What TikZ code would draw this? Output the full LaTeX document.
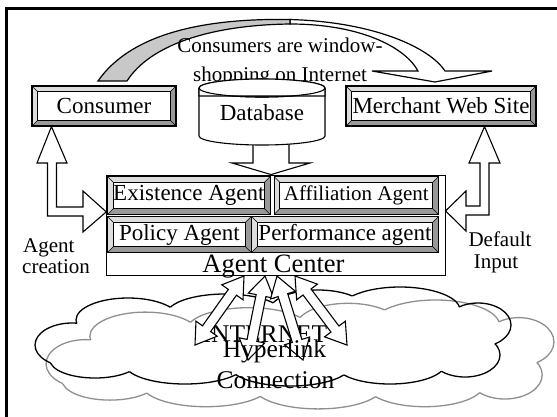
\documentclass[tikz,border=0pt]{standalone}
\usepackage{fontspec}
\setmainfont{Liberation Serif}
\usetikzlibrary{calc}

\definecolor{bevdark}{HTML}{999999}
\definecolor{bevlight}{HTML}{DDDDDD}
\definecolor{curlgray}{HTML}{C8C8C8}
\definecolor{cloudgray}{HTML}{8F8F8F}

\newcommand\szbox{\fontsize{23}{27}\selectfont}
\newcommand\szsmallbox{\fontsize{21}{25}\selectfont}
\newcommand\szlab{\fontsize{21}{25}\selectfont}
\newcommand\szbig{\fontsize{26.5}{30}\selectfont}
\newcommand\szcloud{\fontsize{25.5}{30}\selectfont}
\newcommand\bevw{5.5pt}

% lobes of the cloud outline: centre x / centre y / x radius / y radius
\newcommand\cloudlobes{72/345/37/22, 128/320/52/22, 225/314/58/20, 318/310/48/20,
  400/310/60/23, 478/325/33/22, 465/355/35/22, 390/364/55/20, 290/366/60/20,
  185/364/60/20, 95/360/45/18, 275/340/200/32}

% outline of the union of all lobes
\newcommand\drawcloud[1]{%
  \foreach \cx/\cy/\rx/\ry [count=\i] in \cloudlobes {
    \begin{scope}[even odd rule]
      \foreach \dx/\dy/\sx/\sy [count=\j] in \cloudlobes {
        \ifnum\i=\j\else
          \clip (-100,-100) rectangle (700,600)
            (\dx,\dy) ellipse [x radius=\sx pt, y radius=\sy pt];
        \fi
      }
      \draw[#1, line width=1.3pt] (\cx,\cy) ellipse [x radius=\rx pt, y radius=\ry pt];
    \end{scope}
  }}

% double-headed block arrow between two named points
\newcommand\hl{20pt}
\newcommand\hw{13pt}
\newcommand\sw{5pt}
\newcommand\twowayarrow[2]{%
  \draw[blockarrow] let \p1=(#1), \p2=(#2),
      \n1={atan2(\y2-\y1,\x2-\x1)}, \n2={\n1+90}, \n3={\n1+180}, \n4={\n1-90} in
    (\p1) -- ($(\p1)+(\n1:\hl)+(\n2:\hw)$) -- ($(\p1)+(\n1:\hl)+(\n2:\sw)$)
    -- ($(\p2)+(\n3:\hl)+(\n2:\sw)$) -- ($(\p2)+(\n3:\hl)+(\n2:\hw)$) -- (\p2)
    -- ($(\p2)+(\n3:\hl)+(\n4:\hw)$) -- ($(\p2)+(\n3:\hl)+(\n4:\sw)$)
    -- ($(\p1)+(\n1:\hl)+(\n4:\sw)$) -- ($(\p1)+(\n1:\hl)+(\n4:\hw)$) -- cycle;}

\tikzset{
  lab/.style={font=\szlab, inner sep=0pt},
  cloudtxt/.style={font=\szcloud, inner sep=0pt},
  blockarrow/.style={draw=black, fill=white, line width=1.1pt, line join=miter},
  bevelbox/.style={rectangle, draw=black, line width=1.1pt, fill=bevlight,
    inner sep=0pt, font=\szbox,
    path picture={
      \coordinate (bbnw) at (path picture bounding box.north west);
      \coordinate (bbne) at (path picture bounding box.north east);
      \coordinate (bbsw) at (path picture bounding box.south west);
      \coordinate (bbse) at (path picture bounding box.south east);
      \fill[bevdark] (bbsw) -- (bbse) -- (bbne) -- ([shift={(-\bevw,-\bevw)}]bbne)
        -- ([shift={(-\bevw,\bevw)}]bbse) -- ([shift={(\bevw,\bevw)}]bbsw) -- cycle;
      \draw[line width=0.5pt] (bbnw) -- ([shift={(\bevw,-\bevw)}]bbnw)
        (bbne) -- ([shift={(-\bevw,-\bevw)}]bbne)
        (bbsw) -- ([shift={(\bevw,\bevw)}]bbsw)
        (bbse) -- ([shift={(-\bevw,\bevw)}]bbse);
      \draw[line width=1.3pt, fill=white] ([shift={(\bevw,-\bevw)}]bbnw)
        rectangle ([shift={(-\bevw,\bevw)}]bbse);
    }}
}

\begin{document}
\begin{tikzpicture}[x=1pt, y=-1pt]
  \useasboundingbox (0,0) rectangle (557,416);
  \clip (0,0) rectangle (557,416);

  % page frame, running off the right and bottom edges
  \draw[line width=2.4pt] (6.5,8.5) rectangle (600,460);

  % internet clouds
  \begin{scope}[shift={(300,355)}, xscale=1.067, yscale=1.1, shift={(-273,-337)}]
    \drawcloud{cloudgray}
  \end{scope}
  \drawcloud{black}

  \node[cloudtxt, anchor=base] (inet) at (265,342) {INTERNET};

  % agent centre
  \node[draw, line width=1pt, fill=white, minimum width=338.3pt, minimum height=100.7pt,
        inner sep=0pt] (center) at (275.9,225.4) {};
  \node[bevelbox, minimum width=162.3pt, minimum height=37.5pt] (exist) at (188.9,195.5) {Existence Agent};
  \node[bevelbox, font=\szsmallbox, minimum width=164pt, minimum height=37.5pt] (affil) at (356.3,195.5) {Affiliation Agent};
  \node[bevelbox, minimum width=143.3pt, minimum height=35.6pt] (policy) at (179.4,234.5) {Policy Agent};
  \node[bevelbox, minimum width=186.6pt, minimum height=35.6pt] (perf) at (345,234.5) {Performance agent};
  \node[font=\szbig, anchor=base, inner sep=0pt] (centerlbl) at (273.5,272.3) {Agent Center};

  % hyperlink arrows between the agent centre and the internet
  \coordinate (ha1) at (244,276);  \coordinate (hb1) at (195,345);
  \coordinate (ha2) at (265,276);  \coordinate (hb2) at (248,360);
  \coordinate (ha3) at (277,276);  \coordinate (hb3) at (303,360);
  \coordinate (ha4) at (295,276);  \coordinate (hb4) at (347,345);
  \twowayarrow{ha1}{hb1}
  \twowayarrow{ha2}{hb2}
  \twowayarrow{ha3}{hb3}
  \twowayarrow{ha4}{hb4}

  \node[cloudtxt, anchor=base] (hyper) at (274.5,357) {Hyperlink};
  \node[cloudtxt, anchor=base] (conn) at (275.5,388) {Connection};

  % consumer and merchant boxes
  \node[bevelbox, minimum width=144pt, minimum height=40pt] (consumer) at (104,106) {Consumer};
  \node[bevelbox, minimum width=190pt, minimum height=40pt] (merchant) at (441,106) {Merchant Web Site};

  % agent creation: consumer <-> agent centre
  \coordinate (ctip) at ($(consumer.south west)+(20pt,0pt)$);
  \coordinate (ltip) at ($(center.west)+(0pt,13.5pt)$);
  \draw[blockarrow] (ctip) -- (67,163) -- (56.5,163) -- (56.5,207) -- (83,207) -- (83,191)
    -- (ltip) -- (83,232) -- (83,216) -- (47.5,216) -- (47.5,163) -- (37,163) -- cycle;

  % default input: merchant <-> agent centre
  \coordinate (mtip) at (merchant.south -| 484.5,0);
  \coordinate (rtip) at ($(center.east)+(0pt,14.5pt)$);
  \draw[blockarrow] (mtip) -- (500,163) -- (489,163) -- (489,215) -- (466,215) -- (466,231)
    -- (rtip) -- (466,191) -- (466,206) -- (480,206) -- (480,163) -- (469,163) -- cycle;

  \node[lab, anchor=base west] (creat1) at (23,252) {Agent};
  \node[lab, anchor=base west] (creat2) at (22,273) {creation};
  \node[lab, anchor=base] (defin1) at (500,246) {Default};
  \node[lab, anchor=base] (defin2) at (496,268) {Input};

  % database feeding the agent centre
  \coordinate (dbtip) at (center.north -| 271,0);
  \draw[blockarrow] (253,138) -- (253,163) -- (232,163) -- (dbtip) -- (310,163)
    -- (289,163) -- (289,138);
  \draw[line width=1.1pt, fill=white] (199,88) -- (199,136)
    arc[start angle=180, end angle=360, x radius=63pt, y radius=9pt] -- (325,88)
    arc[start angle=0, end angle=180, x radius=63pt, y radius=9pt] -- cycle;
  \draw[line width=1.1pt] (199,88) arc[start angle=180, end angle=360, x radius=63pt, y radius=9pt];
  \node[font=\szbox, anchor=base, inner sep=0pt] (db) at (262,120) {Database};

  % window-shopping arrow from consumer to merchant
  \draw[line width=1.2pt, fill=white, line join=miter]
    (290,19.5) .. controls (375,22) and (430,48) .. (445,71) -- (492,71) -- (435,82)
    -- (372,71) -- (418,71) .. controls (405,47) and (360,24) .. (290,24) -- cycle;
  \draw[line width=1.2pt, fill=curlgray, line join=miter]
    (98,81) .. controls (130,35) and (200,18) .. (290,19.5)
    -- (290,24) .. controls (210,25) and (150,45) .. (127,81) -- cycle;
  \node[lab, anchor=base] (slogan1) at (280,52) {Consumers are window-};
  \node[lab, anchor=base] (slogan2) at (280,81) {shopping on Internet};

  % keep the database above the slogan
  \draw[line width=1.1pt, fill=white] (199,88) -- (199,96) -- (325,96) -- (325,88)
    arc[start angle=0, end angle=180, x radius=63pt, y radius=9pt] -- cycle;
  \draw[line width=1.1pt] (199,88) arc[start angle=180, end angle=360, x radius=63pt, y radius=9pt];
\end{tikzpicture}
\end{document}
